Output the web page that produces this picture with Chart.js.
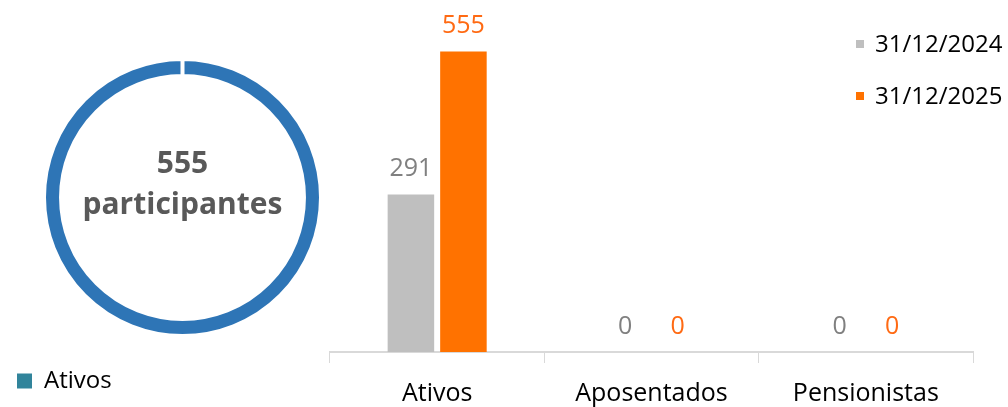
<!DOCTYPE html>
<html lang="en">
<head>
<meta charset="UTF-8">
<title>Participantes</title>
<script src="https://cdn.jsdelivr.net/npm/chart.js@4.4.1/dist/chart.umd.min.js"></script>
<style>
  html, body { margin: 0; padding: 0; background: #fff; }
  #wrap { position: relative; width: 1008px; height: 407px; overflow: hidden; }
  #ringBox { position: absolute; left: 0; top: 0; width: 365px; height: 407px; }
  #barBox { position: absolute; left: 320px; top: 0; width: 688px; height: 427px; }
</style>
</head>
<body>
<div id="wrap">
  <div id="ringBox"><canvas id="ringChart"></canvas></div>
  <div id="barBox"><canvas id="barChart"></canvas></div>
</div>
<script>
const ringLabels = ['Ativos'];
const ringValues = [555];
const categories = ['Ativos', 'Aposentados', 'Pensionistas'];
const seriesNames = ['31/12/2024', '31/12/2025'];
const values2024 = [291, 0, 0];
const values2025 = [555, 0, 0];

const FONT = 'Open Sans';

// total in the middle of the ring
const centerText = {
  id: 'centerText',
  afterDraw(chart) {
    const ctx = chart.ctx;
    const a = chart.chartArea;
    const cx = (a.left + a.right) / 2;
    const cy = (a.top + a.bottom) / 2;
    const total = ringValues.reduce((s, v) => s + v, 0);
    ctx.save();
    ctx.fillStyle = '#595959';
    ctx.textAlign = 'center';
    ctx.textBaseline = 'alphabetic';
    ctx.font = 'bold 30px "' + FONT + '"';
    ctx.fillText(String(total), cx, cy - 25);
    ctx.fillText('participantes', cx, cy + 16);
    ctx.restore();
  }
};

// numbers above the bars
const valueLabels = {
  id: 'valueLabels',
  afterDatasetsDraw(chart) {
    const ctx = chart.ctx;
    ctx.save();
    ctx.font = '25px "' + FONT + '"';
    ctx.textAlign = 'center';
    ctx.textBaseline = 'alphabetic';
    chart.data.datasets.forEach((ds, i) => {
      const meta = chart.getDatasetMeta(i);
      ctx.fillStyle = ds.labelColor;
      meta.data.forEach((bar, j) => {
        ctx.fillText(String(ds.data[j]), bar.x, bar.y - 18);
      });
    });
    ctx.restore();
  }
};

// legend stacked in the top right corner
const sideLegend = {
  id: 'sideLegend',
  afterDraw(chart, args, opts) {
    const ctx = chart.ctx;
    ctx.save();
    ctx.font = '24px "' + FONT + '"';
    ctx.textBaseline = 'middle';
    ctx.textAlign = 'left';
    chart.data.datasets.forEach((ds, i) => {
      const y = opts.y + i * opts.gap;
      ctx.fillStyle = ds.backgroundColor;
      ctx.fillRect(opts.x, y - 4, 8, 8);
      ctx.fillStyle = '#000';
      ctx.fillText(ds.label, opts.x + 19, y + 1);
    });
    ctx.restore();
  }
};

new Chart(document.getElementById('ringChart'), {
  type: 'doughnut',
  data: {
    labels: ringLabels,
    datasets: [{
      data: ringValues,
      backgroundColor: '#2E75B6',
      borderColor: '#ffffff',
      borderWidth: 4
    }]
  },
  options: {
    animation: false,
    responsive: true,
    maintainAspectRatio: false,
    radius: 138.5,
    cutout: '87.7%',
    layout: { padding: { top: 36, bottom: 4, left: 7, right: 7 } },
    plugins: {
      tooltip: { enabled: false },
      legend: {
        position: 'bottom',
        align: 'start',
        labels: {
          boxWidth: 15,
          boxHeight: 15,
          color: '#000',
          font: { family: FONT, size: 24 },
          generateLabels: () => ringLabels.map((t, i) => ({
            text: t, fillStyle: '#31849B', strokeStyle: '#31849B',
            lineWidth: 0, hidden: false, index: i
          }))
        }
      }
    }
  },
  plugins: [centerText]
});

new Chart(document.getElementById('barChart'), {
  type: 'bar',
  data: {
    labels: categories,
    datasets: [
      { label: seriesNames[0], data: values2024, backgroundColor: '#BFBFBF', labelColor: '#808080' },
      { label: seriesNames[1], data: values2025, backgroundColor: '#FF7200', labelColor: '#FF6A13' }
    ]
  },
  options: {
    animation: false,
    responsive: true,
    maintainAspectRatio: false,
    categoryPercentage: 0.49,
    barPercentage: 0.886,
    layout: { padding: { top: 27, right: 35, bottom: 2, left: 10 } },
    scales: {
      x: {
        grid: { drawOnChartArea: false, drawTicks: true, tickLength: 11, color: '#D9D9D9' },
        border: { color: '#D9D9D9', width: 2 },
        ticks: { color: '#000', font: { family: FONT, size: 25 }, padding: 16 }
      },
      y: { display: false, min: 0, max: 600 }
    },
    plugins: {
      legend: { display: false },
      tooltip: { enabled: false },
      sideLegend: { x: 536, y: 44, gap: 52 }
    }
  },
  plugins: [valueLabels, sideLegend]
});
</script>
</body>
</html>
